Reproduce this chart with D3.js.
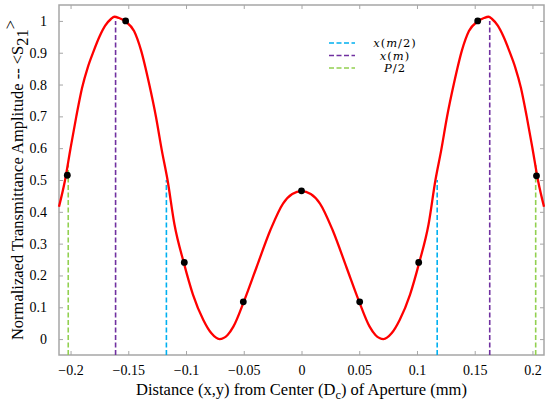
<!DOCTYPE html>
<html>
<head>
<meta charset="utf-8">
<script src="https://cdn.jsdelivr.net/npm/d3@7"></script>
<style>
  body { margin: 0; background: #fff; }
</style>
</head>
<body>
<div id="plot"></div>
<script>
// Curve
var curveX = [-0.21, -0.205, -0.2, -0.195, -0.19, -0.185, -0.18, -0.175, -0.17, -0.165, -0.162, -0.158, -0.152, -0.145, -0.139,
    -0.132, -0.126, -0.121, -0.116, -0.11, -0.102, -0.094, -0.085, -0.078, -0.071, -0.064, -0.059, -0.05, -0.039, -0.027,
    -0.016, -0.008, 0, 0.008, 0.016, 0.027, 0.039, 0.05, 0.059, 0.064, 0.071, 0.078, 0.085, 0.094, 0.102, 0.11, 0.116,
    0.121, 0.126, 0.132, 0.139, 0.145, 0.152, 0.158, 0.162, 0.165, 0.17, 0.175, 0.18, 0.185, 0.19, 0.195, 0.2, 0.205, 0.21];
var curveY = [0.416, 0.495, 0.6, 0.7, 0.79, 0.855, 0.905, 0.95, 0.985, 1.006, 1.013, 1.009, 0.997, 0.968, 0.908,
    0.803, 0.698, 0.594, 0.5, 0.36, 0.241, 0.14, 0.06, 0.018, 0.0, 0.013, 0.039, 0.117, 0.225, 0.342,
    0.426, 0.456, 0.465, 0.456, 0.426, 0.342, 0.225, 0.117, 0.039, 0.013, 0.0, 0.018, 0.06, 0.14, 0.241, 0.36, 0.5,
    0.594, 0.698, 0.803, 0.908, 0.968, 0.997, 1.009, 1.013, 1.006, 0.985, 0.95, 0.905, 0.855, 0.79, 0.7, 0.6, 0.495, 0.416];

// Measured points (black dots)
var dotX = [-0.2028, -0.1523, -0.1015, -0.0504, 0, 0.0504, 0.1015, 0.1526, 0.2035];
var dotY = [0.515, 1.0, 0.241, 0.117, 0.466, 0.117, 0.241, 1.0, 0.513];

// Marker lines
var markerNames = ['x(m/2)', 'x(m)', 'P/2'];
var markerColors = ['#00b0f0', '#7030a0', '#92d050'];
var markerX = [[-0.117, 0.1175], [-0.161, 0.163], [-0.202, 0.2028]];
var markerTop = [0.5, 1.0, 0.547];

var xTicks = [-0.2, -0.15, -0.1, -0.05, 0, 0.05, 0.1, 0.15, 0.2];
var yTicks = [0, 0.1, 0.2, 0.3, 0.4, 0.5, 0.6, 0.7, 0.8, 0.9, 1];

var width = 550,
    height = 408,
    margin = { top: 5, right: 6, bottom: 53, left: 59 };

var serif = "'Liberation Serif', 'Times New Roman', serif";

var x = d3.scaleLinear().domain([-0.21, 0.21]).range([margin.left, width - margin.right]);
var y = d3.scaleLinear().domain([-0.05, 1.05]).range([height - margin.bottom, margin.top]);

var svg = d3.select('#plot')
    .append('svg')
    .attr('width', width)
    .attr('height', height);

var axisColor = '#a6a6a6';

// Axes with inward ticks on all four sides
function styleAxis(g) {
    g.attr('font-family', serif).attr('font-size', 14);
    g.select('.domain').remove();
    g.selectAll('.tick line').attr('stroke', axisColor);
    g.selectAll('.tick text').attr('fill', '#000');
}

svg.append('g')
    .attr('transform', 'translate(0,' + y.range()[0] + ')')
    .call(d3.axisBottom(x).tickValues(xTicks).tickSize(-4).tickPadding(10).tickFormat(d3.format('')))
    .call(styleAxis);

svg.append('g')
    .attr('transform', 'translate(0,' + y.range()[1] + ')')
    .call(d3.axisTop(x).tickValues(xTicks).tickSize(-4).tickFormat(''))
    .call(styleAxis);

svg.append('g')
    .attr('transform', 'translate(' + x.range()[0] + ',0)')
    .call(d3.axisLeft(y).tickValues(yTicks).tickSize(-4).tickPadding(12).tickFormat(d3.format('')))
    .call(styleAxis);

svg.append('g')
    .attr('transform', 'translate(' + x.range()[1] + ',0)')
    .call(d3.axisRight(y).tickValues(yTicks).tickSize(-4).tickFormat(''))
    .call(styleAxis);

// Plot box
svg.append('rect')
    .attr('x', x.range()[0])
    .attr('y', y.range()[1])
    .attr('width', x.range()[1] - x.range()[0])
    .attr('height', y.range()[0] - y.range()[1])
    .attr('fill', 'none')
    .attr('stroke', axisColor)
    .attr('stroke-width', 1.5);

// Dashed marker lines
markerX.forEach(function(xs, i) {
    svg.append('g')
        .selectAll('line')
        .data(xs)
        .enter()
        .append('line')
        .attr('x1', function(d) { return x(d); })
        .attr('x2', function(d) { return x(d); })
        .attr('y1', y(-0.05))
        .attr('y2', y(markerTop[i]))
        .attr('stroke', markerColors[i])
        .attr('stroke-width', 1.6)
        .attr('stroke-dasharray', '5,2.5');
});

// Curve
var line = d3.line()
    .x(function(d) { return x(d[0]); })
    .y(function(d) { return y(d[1]); })
    .curve(d3.curveMonotoneX);

svg.append('path')
    .datum(d3.zip(curveX, curveY))
    .attr('d', line)
    .attr('fill', 'none')
    .attr('stroke', '#ff0000')
    .attr('stroke-width', 2.3);

// Dots
svg.append('g')
    .selectAll('circle')
    .data(d3.zip(dotX, dotY))
    .enter()
    .append('circle')
    .attr('cx', function(d) { return x(d[0]); })
    .attr('cy', function(d) { return y(d[1]); })
    .attr('r', 3.4)
    .attr('fill', '#000');

// Legend
var legend = svg.append('g').attr('transform', 'translate(329, 43)');
markerNames.forEach(function(name, i) {
    var row = legend.append('g').attr('transform', 'translate(0,' + (i * 12.5) + ')');
    row.append('line')
        .attr('x1', 0).attr('x2', 26)
        .attr('stroke', markerColors[i])
        .attr('stroke-width', 1.6)
        .attr('stroke-dasharray', '5,2.5');
    var t = row.append('text')
        .attr('x', 66)
        .attr('y', 4)
        .attr('text-anchor', 'middle')
        .attr('font-family', "'DejaVu Serif', serif")
        .attr('font-size', 11.5)
        .attr('letter-spacing', 1);
    // italic letters, upright punctuation
    name.split('').forEach(function(ch) {
        t.append('tspan')
            .attr('font-style', /[a-zA-Z]/.test(ch) ? 'italic' : 'normal')
            .text(ch);
    });
});

// Axis labels
var xl = svg.append('text')
    .attr('font-family', serif)
    .attr('font-size', 16.5)
    .attr('x', (x.range()[0] + x.range()[1]) / 2)
    .attr('y', 395)
    .attr('text-anchor', 'middle');
xl.append('tspan').text('Distance (x,y) from Center (D');
xl.append('tspan').attr('dy', 4).attr('font-size', 12.5).text('c');
xl.append('tspan').attr('dy', -4).text(') of Aperture (mm)');

var yl = svg.append('text')
    .attr('font-family', serif)
    .attr('font-size', 16.5)
    .attr('transform', 'translate(23,' + ((y.range()[0] + y.range()[1]) / 2) + ') rotate(-90)')
    .attr('text-anchor', 'middle');
yl.append('tspan').text('Normalizaed Transmittance Amplitude -- <S');
yl.append('tspan').attr('dy', 5).text('21');
yl.append('tspan').attr('dy', -12).text('>');
</script>
</body>
</html>
